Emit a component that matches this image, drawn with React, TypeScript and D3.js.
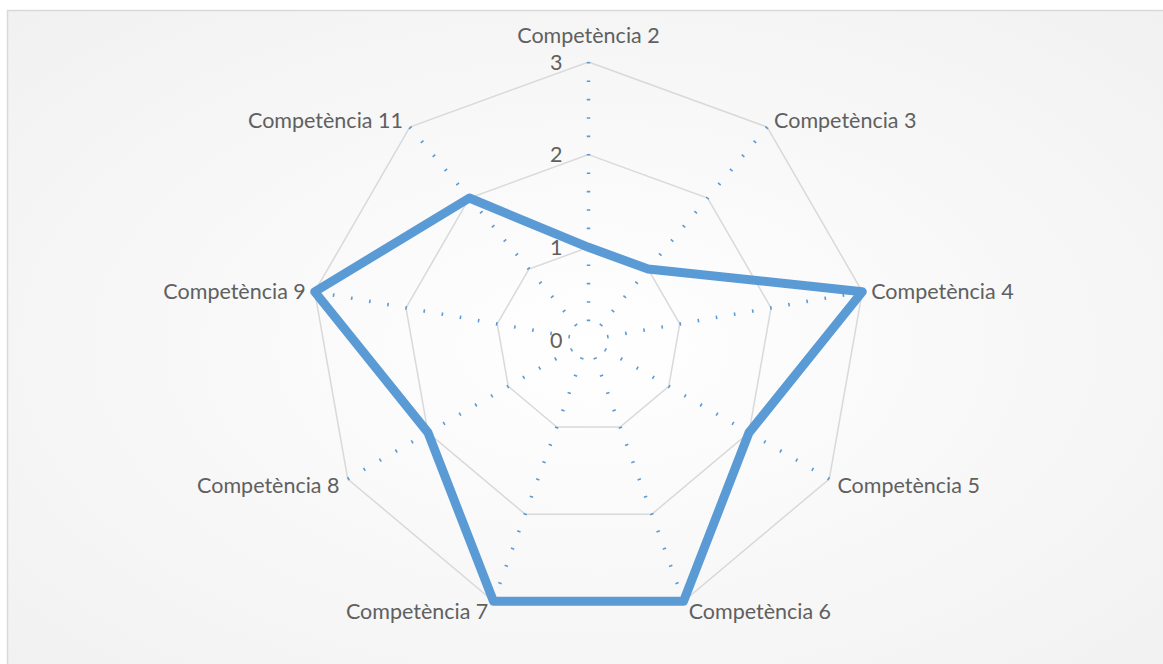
import React from "react";
import * as d3 from "d3";

const categories = [
  "Competència 2",
  "Competència 3",
  "Competència 4",
  "Competència 5",
  "Competència 6",
  "Competència 7",
  "Competència 8",
  "Competència 9",
  "Competència 11",
];
const values = [1, 1, 3, 2, 3, 3, 2, 3, 2];
const ticks = [0, 1, 2, 3];

const W = 1163;
const H = 664;

export default function App() {
  const cx = 588.5;
  const cy = 340;
  const R = 278;
  const font = "Lato, 'Open Sans', sans-serif";
  const fs = 21.5;

  const r = d3.scaleLinear().domain([0, 3]).range([0, R]);
  const angle = d3
    .scalePoint<string>()
    .domain(categories)
    .range([0, 2 * Math.PI * (1 - 1 / categories.length)]);

  // point on the radar for a category / value
  const pt = (c: string, v: number): [number, number] => {
    const a = angle(c) as number;
    return [cx + r(v) * Math.sin(a), cy - r(v) * Math.cos(a)];
  };

  const radial = d3
    .lineRadial<number>()
    .angle((_, i) => angle(categories[i]) as number)
    .radius((d) => r(d))
    .curve(d3.curveLinearClosed);

  const gridLine = (t: number) => radial(categories.map(() => t)) || "";

  return (
    <div style={{ position: "fixed", left: 0, top: 0 }}>
      <svg width={W} height={H} style={{ display: "block" }}>
        <defs>
          <radialGradient id="bg" cx="50%" cy="50%" r="75%">
            <stop offset="0%" stopColor="#ffffff" />
            <stop offset="100%" stopColor="#f0f0f0" />
          </radialGradient>
        </defs>
        <rect x={0} y={0} width={W} height={H} fill="#ffffff" />
        <rect
          x={7.5}
          y={10.5}
          width={W + 10}
          height={H + 10}
          fill="url(#bg)"
          stroke="#d9d9d9"
          strokeWidth={1.5}
        />
        <g transform={`translate(${cx},${cy})`}>
          {ticks
            .filter((t) => t > 0)
            .map((t) => (
              <path
                key={t}
                d={gridLine(t)}
                fill="none"
                stroke="#d9d9d9"
                strokeWidth={1.5}
              />
            ))}
        </g>
        {categories.map((c) => {
          const [x1, y1] = pt(c, 3);
          const [x2, y2] = pt(c, 0.04);
          return (
            <line
              key={c}
              x1={x1}
              y1={y1}
              x2={x2}
              y2={y2}
              stroke="#5b9bd5"
              strokeWidth={3.5}
              strokeDasharray="1.6 16.8"
            />
          );
        })}
        {ticks.map((t) => (
          <text
            key={t}
            x={cx - 26}
            y={cy - r(t)}
            dy="0.35em"
            textAnchor="end"
            fill="#606060"
            fontSize={fs}
            fontFamily={font}
          >
            {t}
          </text>
        ))}
        <g transform={`translate(${cx},${cy})`}>
          <path
            d={radial(values) || ""}
            fill="none"
            stroke="#5b9bd5"
            strokeWidth={9}
            strokeLinejoin="round"
          />
        </g>
        {categories.map((c) => {
          const a = angle(c) as number;
          const s = Math.sin(a);
          const co = Math.cos(a);
          const [vx, vy] = pt(c, 3);
          const anchor = s > 0.1 ? "start" : s < -0.1 ? "end" : "middle";
          const off = 3 + 6 * Math.abs(s);
          const x = vx + (anchor === "start" ? off : anchor === "end" ? -off : 0);
          const y = anchor === "middle" ? vy - 27 : vy - 10 * co + 1;
          return (
            <text
              key={c}
              x={x}
              y={y}
              dy="0.35em"
              textAnchor={anchor}
              fill="#606060"
              fontSize={fs}
              fontFamily={font}
            >
              {c}
            </text>
          );
        })}
      </svg>
    </div>
  );
}
